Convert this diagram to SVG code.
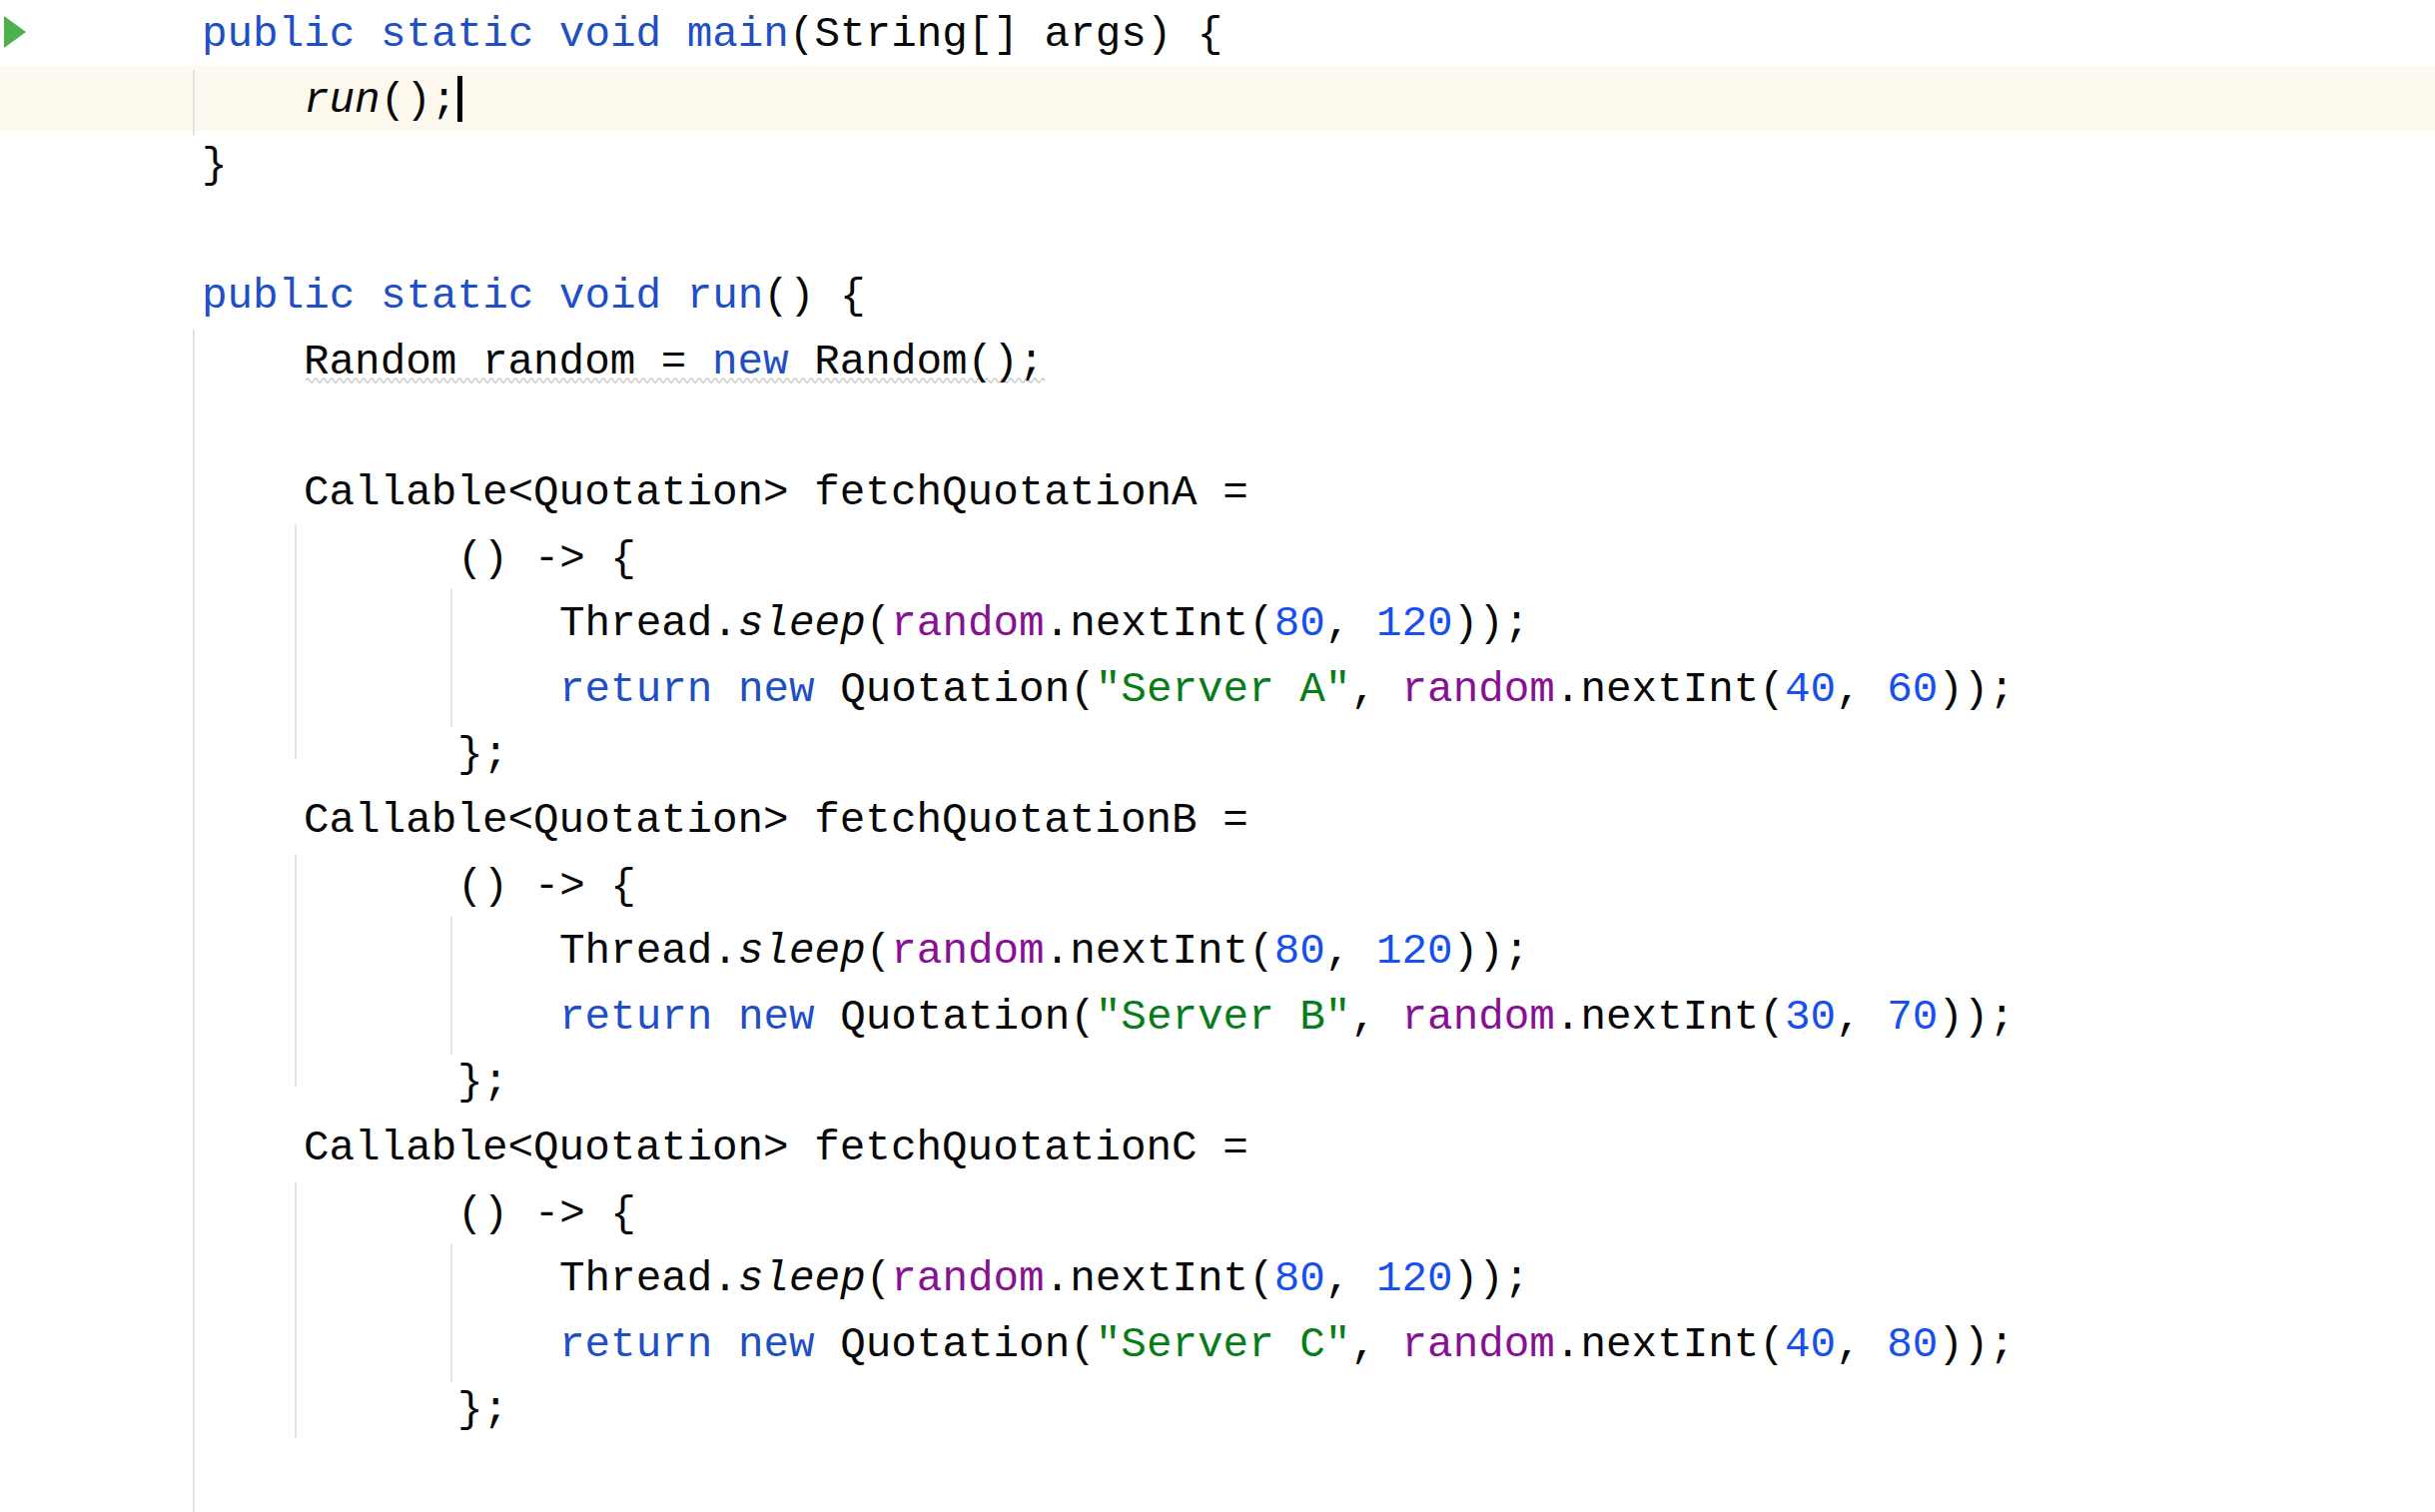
<svg xmlns="http://www.w3.org/2000/svg" width="2438" height="1514" viewBox="0 0 2438 1514">
<defs>
<pattern id="wave" x="306" y="376" width="8" height="8" patternUnits="userSpaceOnUse">
<path d="M0 5 q2 -4 4 0 t4 0" fill="none" stroke="#c8c8c8" stroke-width="1.5"/>
</pattern>
</defs>
<style>
text{font-family:"Liberation Mono","DejaVu Sans Mono",monospace;font-size:42.6px;fill:#080808;white-space:pre}
.k{fill:#1f4fc4}.n{fill:#1750eb}.s{fill:#067d17}.f{fill:#871094}.i{font-style:italic}.m{fill:#1f4fc4}
.g{stroke:#e4e4e4;stroke-width:2}
</style>
<rect width="2438" height="1514" fill="#ffffff"/>
<rect x="0" y="66" width="2438" height="65" fill="#fdf9ee"/>
<polygon points="4,16 4,48 26,32" fill="#4caf50"/>
<g id="guides">
<line class="g" x1="194" y1="70" x2="194" y2="135"/>
<line class="g" x1="194" y1="330" x2="194" y2="1514"/>
<line class="g" x1="296" y1="525" x2="296" y2="760"/>
<line class="g" x1="296" y1="855" x2="296" y2="1088"/>
<line class="g" x1="296" y1="1183" x2="296" y2="1440"/>
<line class="g" x1="452" y1="590" x2="452" y2="728"/>
<line class="g" x1="452" y1="918" x2="452" y2="1056"/>
<line class="g" x1="452" y1="1246" x2="452" y2="1384"/>
</g>
<rect x="306" y="376" width="740" height="8" fill="url(#wave)"/>
<g id="code">
<text x="202" y="46"><tspan class="k">public static void </tspan><tspan class="m">main</tspan>(String[] args) {</text>
<text x="304" y="112"><tspan class="i">run</tspan>();</text>
<rect x="458" y="76" width="5" height="46" fill="#000"/>
<text x="202" y="177">}</text>
<text x="202" y="308"><tspan class="k">public static void </tspan><tspan class="m">run</tspan>() {</text>
<text x="304" y="374">Random random = <tspan class="k">new</tspan> Random();</text>
<text x="304" y="505">Callable&lt;Quotation&gt; fetchQuotationA =</text>
<text x="458" y="571">() -&gt; {</text>
<text x="560" y="636">Thread.<tspan class="i">sleep</tspan>(<tspan class="f">random</tspan>.nextInt(<tspan class="n">80</tspan>, <tspan class="n">120</tspan>));</text>
<text x="560" y="702"><tspan class="k">return new </tspan>Quotation(<tspan class="s">"Server A"</tspan>, <tspan class="f">random</tspan>.nextInt(<tspan class="n">40</tspan>, <tspan class="n">60</tspan>));</text>
<text x="458" y="767">};</text>
<text x="304" y="833">Callable&lt;Quotation&gt; fetchQuotationB =</text>
<text x="458" y="899">() -&gt; {</text>
<text x="560" y="964">Thread.<tspan class="i">sleep</tspan>(<tspan class="f">random</tspan>.nextInt(<tspan class="n">80</tspan>, <tspan class="n">120</tspan>));</text>
<text x="560" y="1030"><tspan class="k">return new </tspan>Quotation(<tspan class="s">"Server B"</tspan>, <tspan class="f">random</tspan>.nextInt(<tspan class="n">30</tspan>, <tspan class="n">70</tspan>));</text>
<text x="458" y="1095">};</text>
<text x="304" y="1161">Callable&lt;Quotation&gt; fetchQuotationC =</text>
<text x="458" y="1227">() -&gt; {</text>
<text x="560" y="1292">Thread.<tspan class="i">sleep</tspan>(<tspan class="f">random</tspan>.nextInt(<tspan class="n">80</tspan>, <tspan class="n">120</tspan>));</text>
<text x="560" y="1358"><tspan class="k">return new </tspan>Quotation(<tspan class="s">"Server C"</tspan>, <tspan class="f">random</tspan>.nextInt(<tspan class="n">40</tspan>, <tspan class="n">80</tspan>));</text>
<text x="458" y="1423">};</text>
</g>
</svg>
